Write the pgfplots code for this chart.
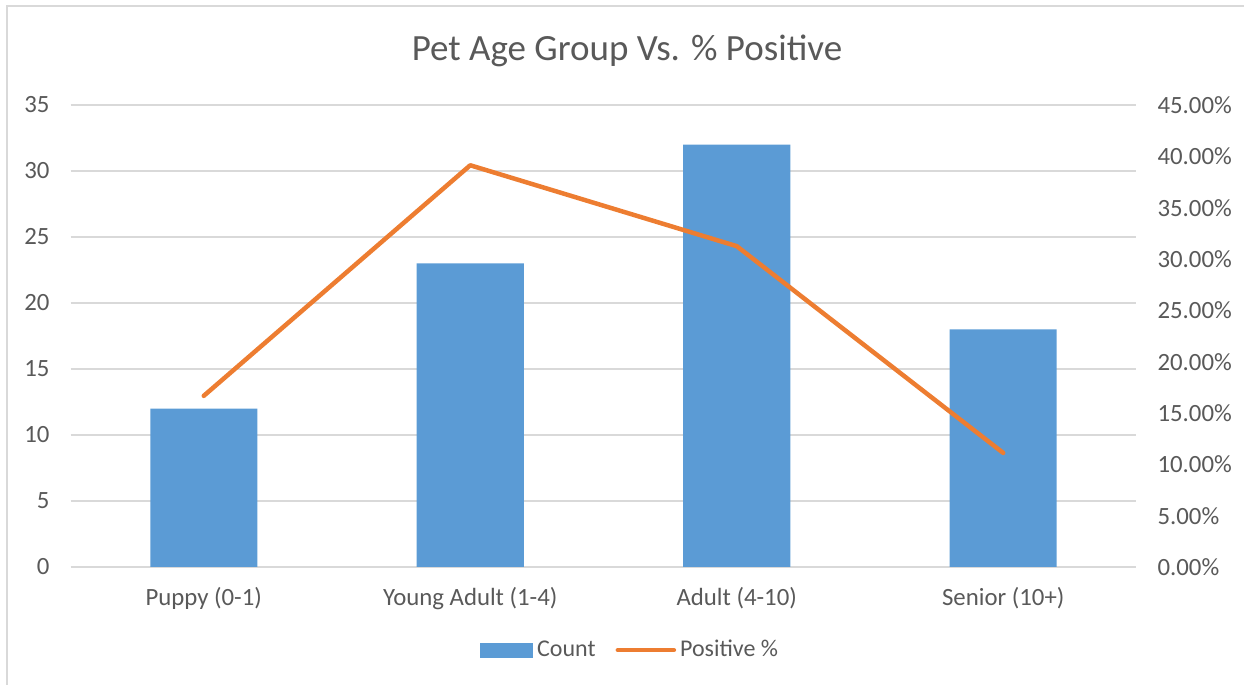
\documentclass[border=0pt]{standalone}
\usepackage{fontspec}
\setmainfont{Carlito}
\usepackage{pgfplots}
\pgfplotsset{compat=1.18}
\definecolor{barblue}{HTML}{5B9BD5}
\definecolor{lineorange}{HTML}{ED7D31}
\definecolor{txtgray}{HTML}{595959}
\definecolor{gridgray}{HTML}{D9D9D9}
\definecolor{bordergray}{HTML}{D9D9D9}
\begin{document}
\begin{tikzpicture}
\useasboundingbox (0,0) rectangle (622pt,342.5pt);
\draw[bordergray, line width=0.75pt] (3.5pt,-2pt) -- (3.5pt,339.5pt) -- (625pt,339.5pt);
\node[txtgray, font=\fontsize{18.5}{22}\selectfont] at (313.5pt,317pt) {Pet Age Group Vs. \% Positive};
\begin{axis}[
  at={(35.25pt,59pt)}, anchor=south west,
  scale only axis, width=533pt, height=231pt,
  xmin=-0.5, xmax=3.5, ymin=0, ymax=35,
  ytick={0,5,...,35},
  xtick={0,1,2,3},
  xticklabels={Puppy (0-1), Young Adult (1-4), Adult (4-10), Senior (10+)},
  axis line style={draw=none},
  axis x line*=bottom,
  axis y line*=left,
  tick style={draw=none},
  ymajorgrids, grid style={gridgray, line width=0.75pt},
  tick label style={txtgray, font=\fontsize{12.4}{14}\selectfont},
  /pgf/number format/assume math mode=true,
  yticklabel style={xshift=-7pt},
  xticklabel style={yshift=-6.5pt},
  clip=false,
]
\addplot[ybar, bar width=53.5pt, fill=barblue, draw=none] coordinates {(0,12) (1,23) (2,32) (3,18)};
\end{axis}
\begin{axis}[
  at={(35.25pt,59pt)}, anchor=south west,
  scale only axis, width=533pt, height=231pt,
  xmin=-0.5, xmax=3.5, ymin=0, ymax=45,
  ytick={0,5,...,45},
  xtick=\empty,
  axis line style={draw=none},
  axis y line*=right,
  axis x line=none,
  tick style={draw=none},
  tick label style={txtgray, font=\fontsize{12.4}{14}\selectfont},
  /pgf/number format/assume math mode=true,
  yticklabel={\pgfmathprintnumber[fixed,fixed zerofill,precision=2]{\tick}\%},
  yticklabel style={xshift=7pt},
  legend style={at={(0.526,-0.18)}, anchor=center, draw=none, fill=none,
    legend columns=2, font=\fontsize{12}{14}\selectfont, text=txtgray,
    /tikz/every even column/.append style={column sep=8pt}},
  clip=false,
]
\addlegendimage{legend image code/.code={\fill[barblue] (0pt,-3.5pt) rectangle (26pt,3.5pt);}}
\addlegendentry{Count}
\addplot[lineorange, line width=2.25pt, line cap=round, line join=round,
  legend image code/.code={\draw[lineorange, line width=2.25pt, line cap=round] (0pt,0pt) -- (28pt,0pt);}]
  coordinates {(0,16.67) (1,39.13) (2,31.25) (3,11.11)};
\addlegendentry{Positive \%}
\end{axis}
\end{tikzpicture}
\end{document}
